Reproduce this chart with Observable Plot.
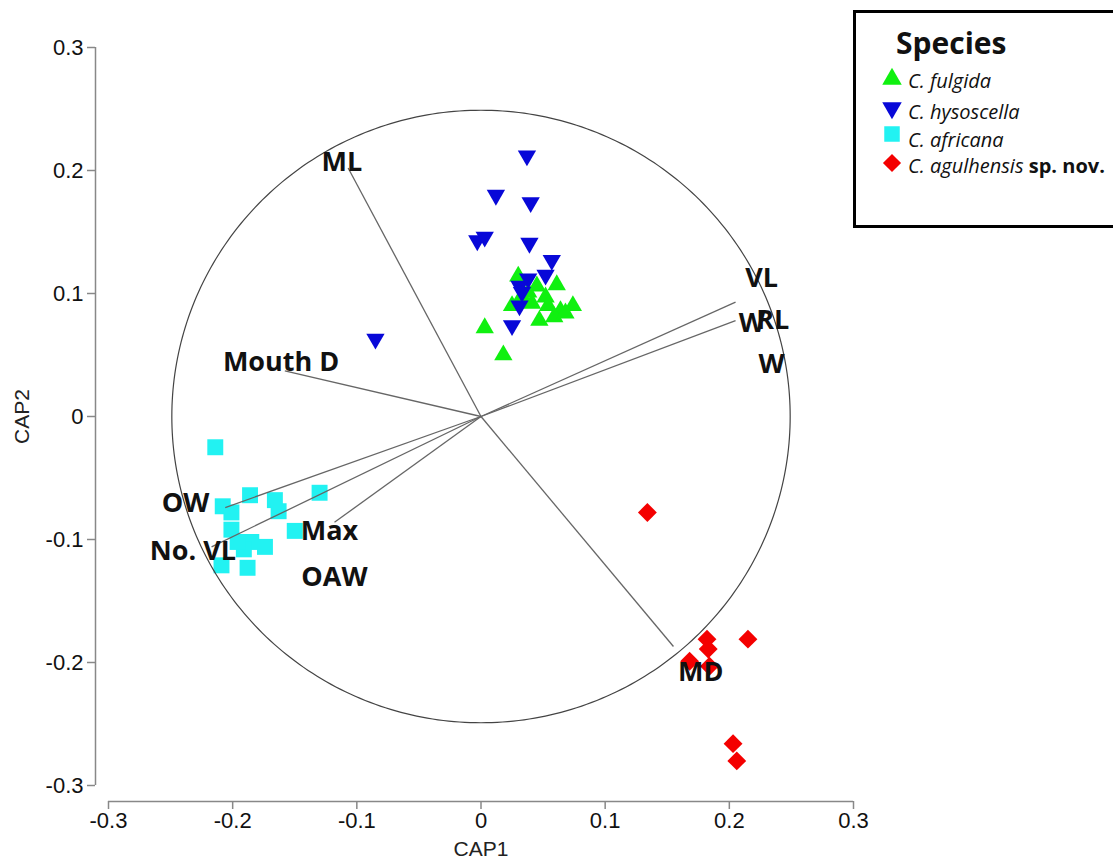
<!DOCTYPE html>
<html><head><meta charset="utf-8">
<script src="https://cdn.jsdelivr.net/npm/d3@7"></script>
<script src="https://cdn.jsdelivr.net/npm/@observablehq/plot@0.6"></script>
<style>
body{margin:0;background:#fff;}
#wrap{position:relative;width:1113px;height:861px;overflow:hidden;}
#legend{position:absolute;left:853px;top:10px;}
</style></head><body>
<div id="wrap"><div id="chart"></div><svg id="legend" width="260" height="220"></svg></div>
<script>
// ---- data ----
const xTicks = [-0.3, -0.2, -0.1, 0, 0.1, 0.2, 0.3];
const yTicks = [-0.3, -0.2, -0.1, 0, 0.1, 0.2, 0.3];

const species = ["C. fulgida", "C. hysoscella", "C. africana", "C. agulhensis"];

const fulgidaX = [0.030, 0.045, 0.061, 0.038, 0.052, 0.025, 0.041, 0.054, 0.074, 0.064, 0.059, 0.047, 0.003, 0.018, 0.033, 0.068];
const fulgidaY = [0.114, 0.106, 0.107, 0.101, 0.097, 0.090, 0.092, 0.090, 0.090, 0.086, 0.081, 0.078, 0.072, 0.050, 0.098, 0.084];

const hysoscellaX = [0.037, 0.012, 0.040, -0.003, 0.003, 0.039, 0.057, 0.052, 0.038, 0.031, 0.033, 0.031, 0.025, -0.085];
const hysoscellaY = [0.212, 0.180, 0.174, 0.143, 0.146, 0.141, 0.127, 0.115, 0.112, 0.106, 0.101, 0.090, 0.074, 0.063];

const africanaX = [-0.214, -0.208, -0.201, -0.186, -0.166, -0.163, -0.130, -0.201, -0.150, -0.185, -0.174, -0.191, -0.209, -0.188, -0.196];
const africanaY = [-0.025, -0.073, -0.078, -0.064, -0.068, -0.077, -0.062, -0.092, -0.093, -0.102, -0.106, -0.108, -0.121, -0.123, -0.102];

const agulhensisX = [0.134, 0.182, 0.183, 0.215, 0.168, 0.184, 0.203, 0.206];
const agulhensisY = [-0.078, -0.181, -0.189, -0.181, -0.199, -0.203, -0.266, -0.280];

const vectorNames = ["ML", "Mouth D", "OW", "No. VL", "Max", "VL", "W", "MD"];
const vectorX = [-0.107, -0.158, -0.206, -0.217, -0.118, 0.205, 0.205, 0.155];
const vectorY = [0.202, 0.037, -0.074, -0.106, -0.086, 0.093, 0.078, -0.187];

const labelNames = ["ML", "Mouth D", "OW", "No. VL", "Max", "OAW", "VL", "W", "RL", "W", "MD"];
const labelX = [-0.112, -0.161, -0.238, -0.232, -0.122, -0.118, 0.226, 0.218, 0.235, 0.234, 0.177];
const labelY = [0.207, 0.044, -0.071, -0.110, -0.093, -0.131, 0.112, 0.076, 0.078, 0.042, -0.208];

const circleRadius = 0.249;

// ---- build tables ----
const pts = (xs, ys) => xs.map((x, i) => ({x, y: ys[i]}));
const fulgida = pts(fulgidaX, fulgidaY);
const hysoscella = pts(hysoscellaX, hysoscellaY);
const africana = pts(africanaX, africanaY);
const agulhensis = pts(agulhensisX, agulhensisY);
const vectors = vectorNames.map((n, i) => ({n, x: vectorX[i], y: vectorY[i]}));
const labels = labelNames.map((n, i) => ({n, x: labelX[i], y: labelY[i]}));
const circle = d3.range(0, 361, 1).map(a => ({x: circleRadius * Math.cos(a * Math.PI / 180), y: circleRadius * Math.sin(a * Math.PI / 180)}));

const colors = {fulgida: "#10f010", hysoscella: "#0808d8", africana: "#22f2f2", agulhensis: "#f40000"};
const fmt = d => d === 0 ? "0" : d.toFixed(1);

const chart = Plot.plot({
  width: 1113, height: 861,
  marginLeft: 108, marginRight: 260, marginTop: 47, marginBottom: 76,
  x: {domain: [xTicks[0], xTicks[xTicks.length - 1]]},
  y: {domain: [yTicks[0], yTicks[yTicks.length - 1]]},
  style: {fontFamily: "'Liberation Sans', Arial, sans-serif", fontSize: "22px", color: "#111", background: "#fff"},
  marks: [
    // axes
    Plot.ruleX([xTicks[0]], {y1: yTicks[0], y2: yTicks[yTicks.length - 1], dx: -13, stroke: "#888", strokeWidth: 1.5}),
    Plot.axisY(yTicks, {tickSize: 8, tickPadding: 4, dx: -13, tickFormat: fmt, label: null, stroke: "#888", strokeWidth: 1.5, fill: "#111", fontSize: 22}),
    Plot.ruleY([yTicks[0]], {x1: xTicks[0], x2: xTicks[xTicks.length - 1], dy: 16, stroke: "#888", strokeWidth: 1.5}),
    Plot.axisX(xTicks, {tickSize: 8, tickPadding: 3, dy: 16, tickFormat: fmt, label: null, stroke: "#888", strokeWidth: 1.5, fill: "#111", fontSize: 22}),
    Plot.text(["CAP1"], {frameAnchor: "bottom", dy: 64, lineAnchor: "middle", textAnchor: "middle", fontSize: 21, fill: "#222"}),
    Plot.text(["CAP2"], {frameAnchor: "left", dx: -86, rotate: -90, textAnchor: "middle", lineAnchor: "middle", fontSize: 21, fill: "#222"}),
    // points
    Plot.dot(africana, {x: "x", y: "y", symbol: "square", r: 9, fill: colors.africana}),
    Plot.dot(agulhensis, {x: "x", y: "y", symbol: "diamond2", r: 8.5, fill: colors.agulhensis}),
    Plot.dot(fulgida, {x: "x", y: "y", symbol: "triangle", r: 6.8, fill: colors.fulgida}),
    Plot.dot(hysoscella, {x: "x", y: "y", symbol: "triangle", rotate: 180, r: 6.8, fill: colors.hysoscella}),
    // vectors and circle
    Plot.link(vectors, {x1: 0, y1: 0, x2: "x", y2: "y", stroke: "#666", strokeWidth: 1.3}),
    Plot.line(circle, {x: "x", y: "y", stroke: "#444", strokeWidth: 1.2}),
    // labels
    Plot.text(labels, {x: "x", y: "y", text: "n", fontFamily: "'Open Sans', sans-serif", fontWeight: "bold", fontSize: 27, fill: "#111", lineAnchor: "middle"})
  ]
});
document.getElementById("chart").appendChild(chart);

// ---- legend ----
const lg = d3.select("#legend");
lg.append("rect").attr("x", 1.5).attr("y", 1.5).attr("width", 300).attr("height", 215)
  .attr("fill", "#fff").attr("stroke", "#000").attr("stroke-width", 3);
lg.append("text").attr("x", 43).attr("y", 44).text("Species")
  .attr("font-family", "'Open Sans', sans-serif").attr("font-weight", "bold").attr("font-size", 30).attr("fill", "#111");
const rows = [
  {sym: d3.symbolTriangle, rot: 0, size: 165, color: colors.fulgida, cy: 69, base: 78},
  {sym: d3.symbolTriangle, rot: 180, size: 165, color: colors.hysoscella, cy: 98, base: 109},
  {sym: d3.symbolSquare, rot: 0, size: 240, color: colors.africana, cy: 124, base: 137},
  {sym: d3.symbolDiamond2, rot: 0, size: 210, color: colors.agulhensis, cy: 153, base: 163}
];
rows.forEach((r, i) => {
  lg.append("path").attr("d", d3.symbol(r.sym, r.size)()).attr("fill", r.color)
    .attr("transform", `translate(39,${r.cy}) rotate(${r.rot})`);
  const t = lg.append("text").attr("x", 55).attr("y", r.base)
    .attr("font-family", "'Open Sans', sans-serif").attr("font-size", 20).attr("fill", "#111");
  t.append("tspan").attr("font-style", "italic").text(species[i]);
  if (i === 3) t.append("tspan").attr("font-weight", "bold").text(" sp. nov.");
});
</script>
</body></html>
